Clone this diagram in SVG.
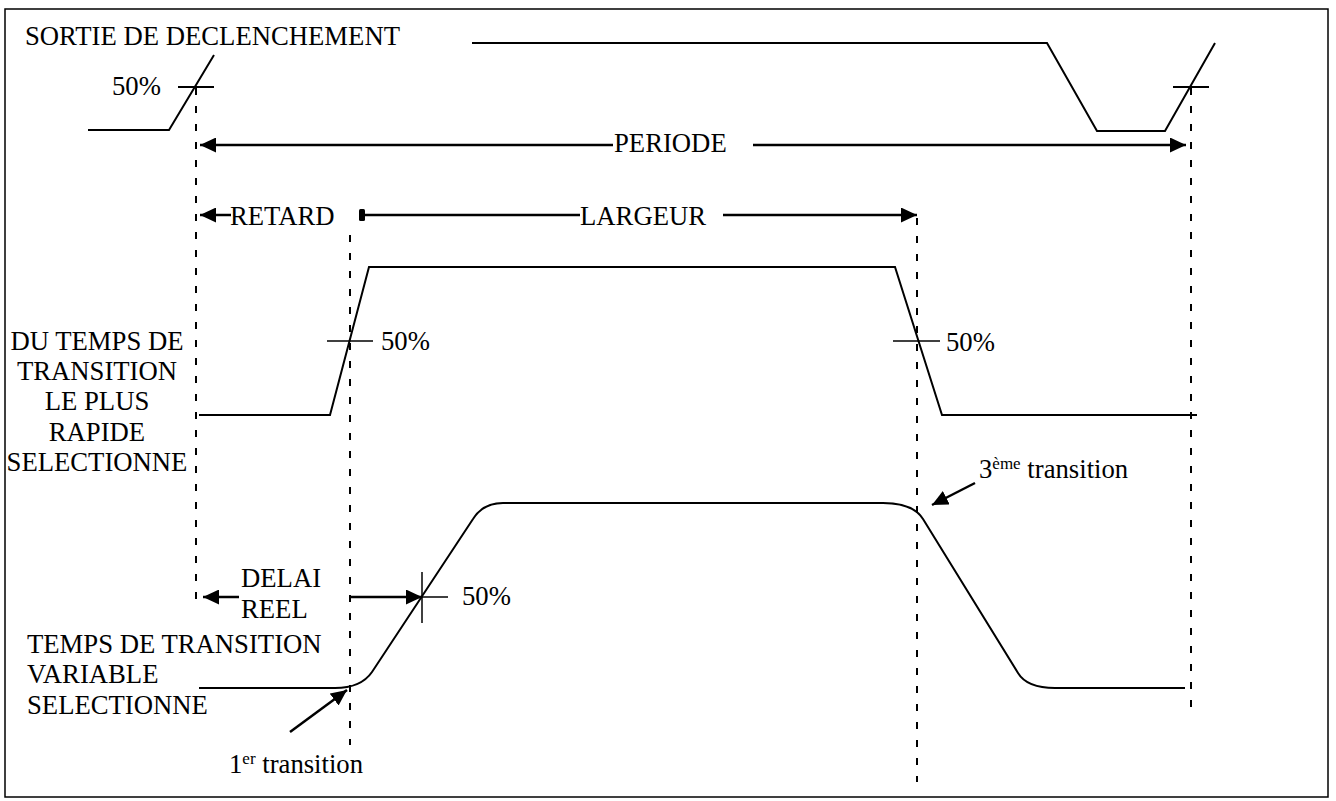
<svg xmlns="http://www.w3.org/2000/svg" width="1336" height="801" viewBox="0 0 1336 801">
<style>
text{font-family:'Liberation Serif','Times New Roman',Times,serif;font-size:26.7px;fill:#000}
.sup{font-size:17px}
.w{fill:none;stroke:#000;stroke-width:2;stroke-linejoin:miter}
.t{fill:none;stroke:#000;stroke-width:2}
.tt{fill:none;stroke:#000;stroke-width:1.5}
.d{fill:none;stroke:#000;stroke-width:2;stroke-dasharray:7 11}
.a{fill:none;stroke:#000;stroke-width:2.5}
</style>
<defs>
<marker id="ah" markerUnits="userSpaceOnUse" markerWidth="17" markerHeight="15" refX="16" refY="7.5" orient="auto">
<path d="M0,0 L16,7.5 L0,15 Z" fill="#000"/>
</marker>
</defs>
<rect x="5" y="9" width="1323" height="788" fill="#fff" stroke="#000" stroke-width="1.5"/>

<g id="guides">
<line class="d" x1="196" y1="88" x2="196" y2="600"/>
<line class="d" x1="350" y1="235" x2="350" y2="745"/>
<line class="d" x1="917" y1="218" x2="917" y2="782"/>
<line class="d" x1="1191" y1="88" x2="1191" y2="708"/>
</g>

<g id="trigger-wave">
<polyline class="w" points="88,130 169,130 214,55"/>
<polyline class="w" points="472,43 1047,43 1097,131 1165,131 1215,43"/>
<line class="t" x1="178" y1="87" x2="214" y2="87"/>
<line class="t" x1="1173" y1="87" x2="1209" y2="87"/>
<text x="112" y="95">50%</text>
<text x="25" y="45">SORTIE DE DECLENCHEMENT</text>
</g>

<g id="fast-wave">
<polyline class="w" points="199,415 330,415 369,267 895,267 942,415 1197,415"/>
<line class="tt" x1="327" y1="341" x2="373" y2="341"/>
<line class="tt" x1="893" y1="341" x2="940" y2="341"/>
<text x="381" y="350">50%</text>
<text x="946" y="351">50%</text>
<text x="97" y="350" text-anchor="middle">DU TEMPS DE</text>
<text x="97" y="380" text-anchor="middle">TRANSITION</text>
<text x="97" y="410" text-anchor="middle">LE PLUS</text>
<text x="97" y="441" text-anchor="middle">RAPIDE</text>
<text x="97" y="471" text-anchor="middle">SELECTIONNE</text>
</g>

<g id="variable-wave">
<path class="w" d="M199,688 L335,688 Q361,688 372,672 L473,519 Q483,503 503,503 L883,503 Q913,503 923,519 L1018,673 Q1027,688 1055,688 L1185,688"/>
<line class="tt" x1="422" y1="572" x2="422" y2="623"/>
<line class="tt" x1="422" y1="597" x2="448" y2="597"/>
<text x="462" y="605">50%</text>
<text x="27" y="653">TEMPS DE TRANSITION</text>
<text x="27" y="683">VARIABLE</text>
<text x="27" y="714">SELECTIONNE</text>
</g>

<g id="connectors">
<line class="a" x1="613" y1="145" x2="200" y2="145" marker-end="url(#ah)"/>
<line class="a" x1="753" y1="145" x2="1186" y2="145" marker-end="url(#ah)"/>
<line class="a" x1="231" y1="215" x2="200" y2="215" marker-end="url(#ah)"/>
<rect x="359" y="209" width="6" height="12" rx="1.5" fill="#000"/>
<line class="a" x1="362" y1="215" x2="580" y2="215"/>
<line class="a" x1="723" y1="215" x2="917" y2="215" marker-end="url(#ah)"/>
<line class="a" x1="239" y1="597" x2="203" y2="597" marker-end="url(#ah)"/>
<line class="a" x1="349" y1="597" x2="422" y2="597" marker-end="url(#ah)"/>
<line class="a" x1="290" y1="732" x2="347" y2="690" marker-end="url(#ah)"/>
<line class="a" x1="975" y1="483" x2="932" y2="505" marker-end="url(#ah)"/>
</g>

<g id="labels">
<text x="614" y="152">PERIODE</text>
<text x="230" y="225">RETARD</text>
<text x="580" y="225">LARGEUR</text>
<text x="241" y="587">DELAI</text>
<text x="241" y="618">REEL</text>
<text x="229" y="773">1<tspan class="sup" dy="-9">er</tspan><tspan dy="9"> transition</tspan></text>
<text x="979" y="478">3<tspan class="sup" dy="-9">ème</tspan><tspan dy="9"> transition</tspan></text>
</g>
</svg>
